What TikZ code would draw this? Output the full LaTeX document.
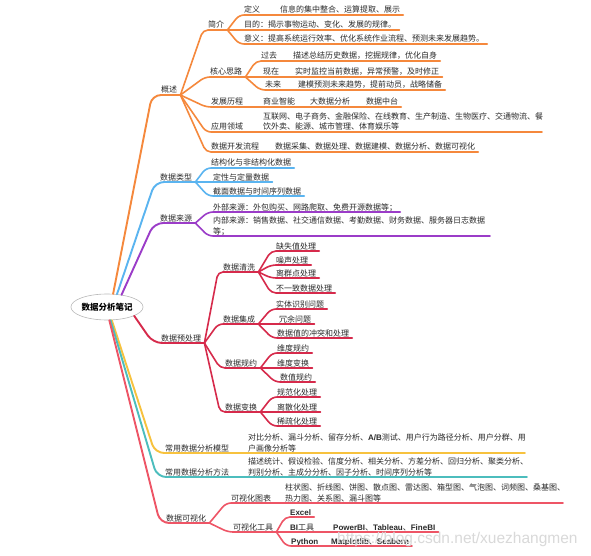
\documentclass[tikz,border=0pt]{standalone}
\usepackage{fontspec}
\setmainfont{Noto Sans CJK SC}
\newfontfamily\lat{Liberation Sans}
\usetikzlibrary{calc,shapes.geometric}
\definecolor{cOr}{HTML}{F5883C}
\definecolor{cBl}{HTML}{5AB4F0}
\definecolor{cPu}{HTML}{9B3CC8}
\definecolor{cRd}{HTML}{D62A4B}
\definecolor{cYe}{HTML}{F7C23E}
\definecolor{cTe}{HTML}{4CBDBD}
\definecolor{cPk}{HTML}{EE5566}
\definecolor{cTx}{HTML}{2A2A2A}
\tikzset{
  txt/.style={inner xsep=3pt, inner ysep=0pt, font=\fontsize{8}{10.5}\selectfont, text=cTx},
  ln/.style={line width=1.6pt, rounded corners=5pt, line cap=round},
  trk/.style={line width=1.9pt, rounded corners=9pt, line cap=round},
}
% leaf: name, colour, from, underline y, text x, text
\newcommand\leaf[6]{%
  \node[txt, anchor=base west] (#1) at (#5,#4-2) {#6};
  \coordinate (#1-f) at (#1.east |- 0,#4);
  \draw[ln,#2] (#3) -- ([xshift=-2pt]#1.west |- 0,#4) -- (#1-f);
}
% leaf with value: name, colour, from, underline y, x1, text1, x2, text2
\newcommand\leafv[8]{%
  \node[txt, anchor=base west] (#1) at (#5,#4-2) {#6};
  \node[txt, anchor=base west] (#1v) at (#7,#4-2) {#8};
  \draw[ln,#2] (#3) -- ([xshift=-2pt]#1.west |- 0,#4) -- (#1v.east |- 0,#4);
}
% two-line leaf: name, colour, from, underline y, x, line1, line2, end x
\newcommand\leafii[8]{%
  \node[txt, anchor=base west] (#1a) at (#5,#4-12.5) {#6};
  \node[txt, anchor=base west] (#1) at (#5,#4-2) {#7};
  \coordinate (#1-e) at (#8,#4);
  \draw[ln,#2] (#3) -- ([xshift=-2pt]#1.west |- 0,#4) -- (#1-e);
}
% trunk: name, colour, from, corner x, underline y, text x, text
\newcommand\trunk[7]{%
  \node[txt, anchor=base west] (#1) at (#6,#5-2) {#7};
  \coordinate (#1-f) at (#1.east |- 0,#5);
  \draw[trk,#2] (#3) -- (#4,#5) -- (#1-f);
}
\begin{document}
\begin{tikzpicture}[x=1pt,y=-1pt]
\fill[white] (0,0) rectangle (591,556);
\useasboundingbox (0,0) rectangle (591,556);
\node[draw=gray!55, line width=0.6pt, fill=white, ellipse, minimum width=60pt, minimum height=26pt, inner sep=0pt, font=\bfseries\fontsize{8.5}{10}\selectfont, text=black] (root) at (107,307) {数据分析笔记};

% ---- orange
\trunk{gs}{cOr}{root.65}{152}{95}{158}{概述}
\leaf{jj}{cOr}{gs-f}{30}{205}{简介}
\leafv{dy}{cOr}{jj-f}{15}{241}{定义}{277}{信息的集中整合、运算提取、展示}
\leaf{md}{cOr}{jj-f}{30}{241}{目的：揭示事物运动、变化、发展的规律。}
\leaf{yi}{cOr}{jj-f}{44}{241}{意义：提高系统运行效率、优化系统作业流程、预测未来发展趋势。}
\leaf{hx}{cOr}{gs-f}{77}{207}{核心思路}
\leafv{gq}{cOr}{hx-f}{61}{258}{过去}{290}{描述总结历史数据，挖掘规律，优化自身}
\leafv{xz}{cOr}{hx-f}{77}{260}{现在}{292}{实时监控当前数据，异常预警，及时修正}
\leafv{wl}{cOr}{hx-f}{90}{262}{未来}{295}{建模预测未来趋势，提前动员，战略储备}
\node[txt, anchor=base west] (fz) at (208,105) {发展历程};
\node[txt, anchor=base west] (fz1) at (260,105) {商业智能};
\node[txt, anchor=base west] (fz2) at (307,105) {大数据分析};
\node[txt, anchor=base west] (fz3) at (363,105) {数据中台};
\draw[ln,cOr] (gs-f) -- ([xshift=-2pt]fz.west |- 0,107) -- (fz3.east |- 0,107);
\node[txt, anchor=base west] (yy) at (208,130) {应用领域};
\node[txt, anchor=base west] (yy1) at (260,119.5) {互联网、电子商务、金融保险、在线教育、生产制造、生物医疗、交通物流、餐};
\node[txt, anchor=base west] (yy2) at (260,130) {饮外卖、能源、城市管理、体育娱乐等};
\coordinate (yy-e) at (542,132);
\draw[ln,cOr] (gs-f) -- ([xshift=-2pt]yy.west |- 0,132) -- (yy-e);
\leafv{kf}{cOr}{gs-f}{152}{208}{数据开发流程}{272}{数据采集、数据处理、数据建模、数据分析、数据可视化}

% ---- blue
\trunk{lx}{cBl}{root.52}{155}{182}{157}{数据类型}
\leaf{jg}{cBl}{lx-f}{168}{208}{结构化与非结构化数据}
\leaf{dx}{cBl}{lx-f}{182}{210}{定性与定量数据}
\leaf{jm}{cBl}{lx-f}{196}{210}{截面数据与时间序列数据}

% ---- purple
\trunk{ly}{cPu}{root.40}{154}{223}{157}{数据来源}
\leaf{wb}{cPu}{ly-f}{212}{210}{外部来源：外包购买、网路爬取、免费开源数据等；}
\leafii{nb}{cPu}{ly-f}{236}{210}{内部来源：销售数据、社交通信数据、考勤数据、财务数据、服务器日志数据}{等；}{490}

% ---- red
\trunk{yc}{cRd}{root.-18}{153}{343}{158}{数据预处理}
\leaf{qx}{cRd}{yc-f}{272}{220}{数据清洗}
\leaf{qa}{cRd}{qx-f}{251}{273}{缺失值处理}
\leaf{qb}{cRd}{qx-f}{265}{273}{噪声处理}
\leaf{qc}{cRd}{qx-f}{278}{273}{离群点处理}
\leaf{qd}{cRd}{qx-f}{293}{273}{不一致数据处理}
\leaf{jc}{cRd}{yc-f}{324}{220}{数据集成}
\leaf{ja}{cRd}{jc-f}{309}{273}{实体识别问题}
\leaf{jb}{cRd}{jc-f}{324}{276}{冗余问题}
\leaf{jd}{cRd}{jc-f}{338}{274}{数据值的冲突和处理}
\leaf{gy}{cRd}{yc-f}{368}{222}{数据规约}
\leaf{ga}{cRd}{gy-f}{353}{274}{维度规约}
\leaf{gb}{cRd}{gy-f}{368}{274}{维度变换}
\leaf{gc}{cRd}{gy-f}{382}{277}{数值规约}
\leaf{bh}{cRd}{yc-f}{412}{222}{数据变换}
\leaf{ba}{cRd}{bh-f}{397}{274}{规范化处理}
\leaf{bb}{cRd}{bh-f}{412}{274}{离散化处理}
\leaf{bc}{cRd}{bh-f}{426}{274}{稀疏化处理}

% ---- yellow
\node[txt, anchor=base west] (mx) at (162,451) {常用数据分析模型};
\node[txt, anchor=base west] (mxa) at (245,440.5) {对比分析、漏斗分析、留存分析、{\lat\bfseries A/B}测试、用户行为路径分析、用户分群、用};
\node[txt, anchor=base west] (mxb) at (245,451) {户画像分析等};
\coordinate (mx-e) at (525,453);
\draw[trk,cYe] (root.-70) -- (155,453) -- (mx-e);

% ---- teal
\node[txt, anchor=base west] (ff) at (162,475) {常用数据分析方法};
\node[txt, anchor=base west] (ffa) at (245,464.5) {描述统计、假设检验、信度分析、相关分析、方差分析、回归分析、聚类分析、};
\node[txt, anchor=base west] (ffb) at (245,475) {判别分析、主成分分析、因子分析、时间序列分析等};
\coordinate (ff-e) at (527,477);
\draw[trk,cTe] (root.-75) -- (157,477) -- (ff-e);

% ---- pink
\trunk{ks}{cPk}{root.-80}{160}{523}{163}{数据可视化}
\node[txt, anchor=base west] (tb) at (228,501) {可视化图表};
\node[txt, anchor=base west] (tba) at (282,490.5) {柱状图、折线图、饼图、散点图、雷达图、箱型图、气泡图、词频图、桑基图、};
\node[txt, anchor=base west] (tbb) at (282,501) {热力图、关系图、漏斗图等};
\coordinate (tb-e) at (563,503);
\draw[ln,cPk] (ks-f) -- ([xshift=-2pt]tb.west |- 0,503) -- (tb-e);
\leaf{gj}{cPk}{ks-f}{532}{230}{可视化工具}
\leaf{ex}{cPk}{gj-f}{517}{287}{{\lat\bfseries Excel}}
\leafv{bi}{cPk}{gj-f}{532}{287}{{\lat\bfseries BI}工具}{330}{{\lat\bfseries PowerBI}、{\lat\bfseries Tableau}、{\lat\bfseries FineBI}}
\leafv{py}{cPk}{gj-f}{546}{288}{{\lat\bfseries Python}}{328}{{\lat\bfseries Matplotlib}、{\lat\bfseries Seaborn}}

% ---- watermark
\node[anchor=base west, inner sep=0pt, text=gray!30, font=\lat\fontsize{15.5}{16}\selectfont] (wm) at (337,543) {https://blog.csdn.net/xuezhangmen};
\end{tikzpicture}
\end{document}
